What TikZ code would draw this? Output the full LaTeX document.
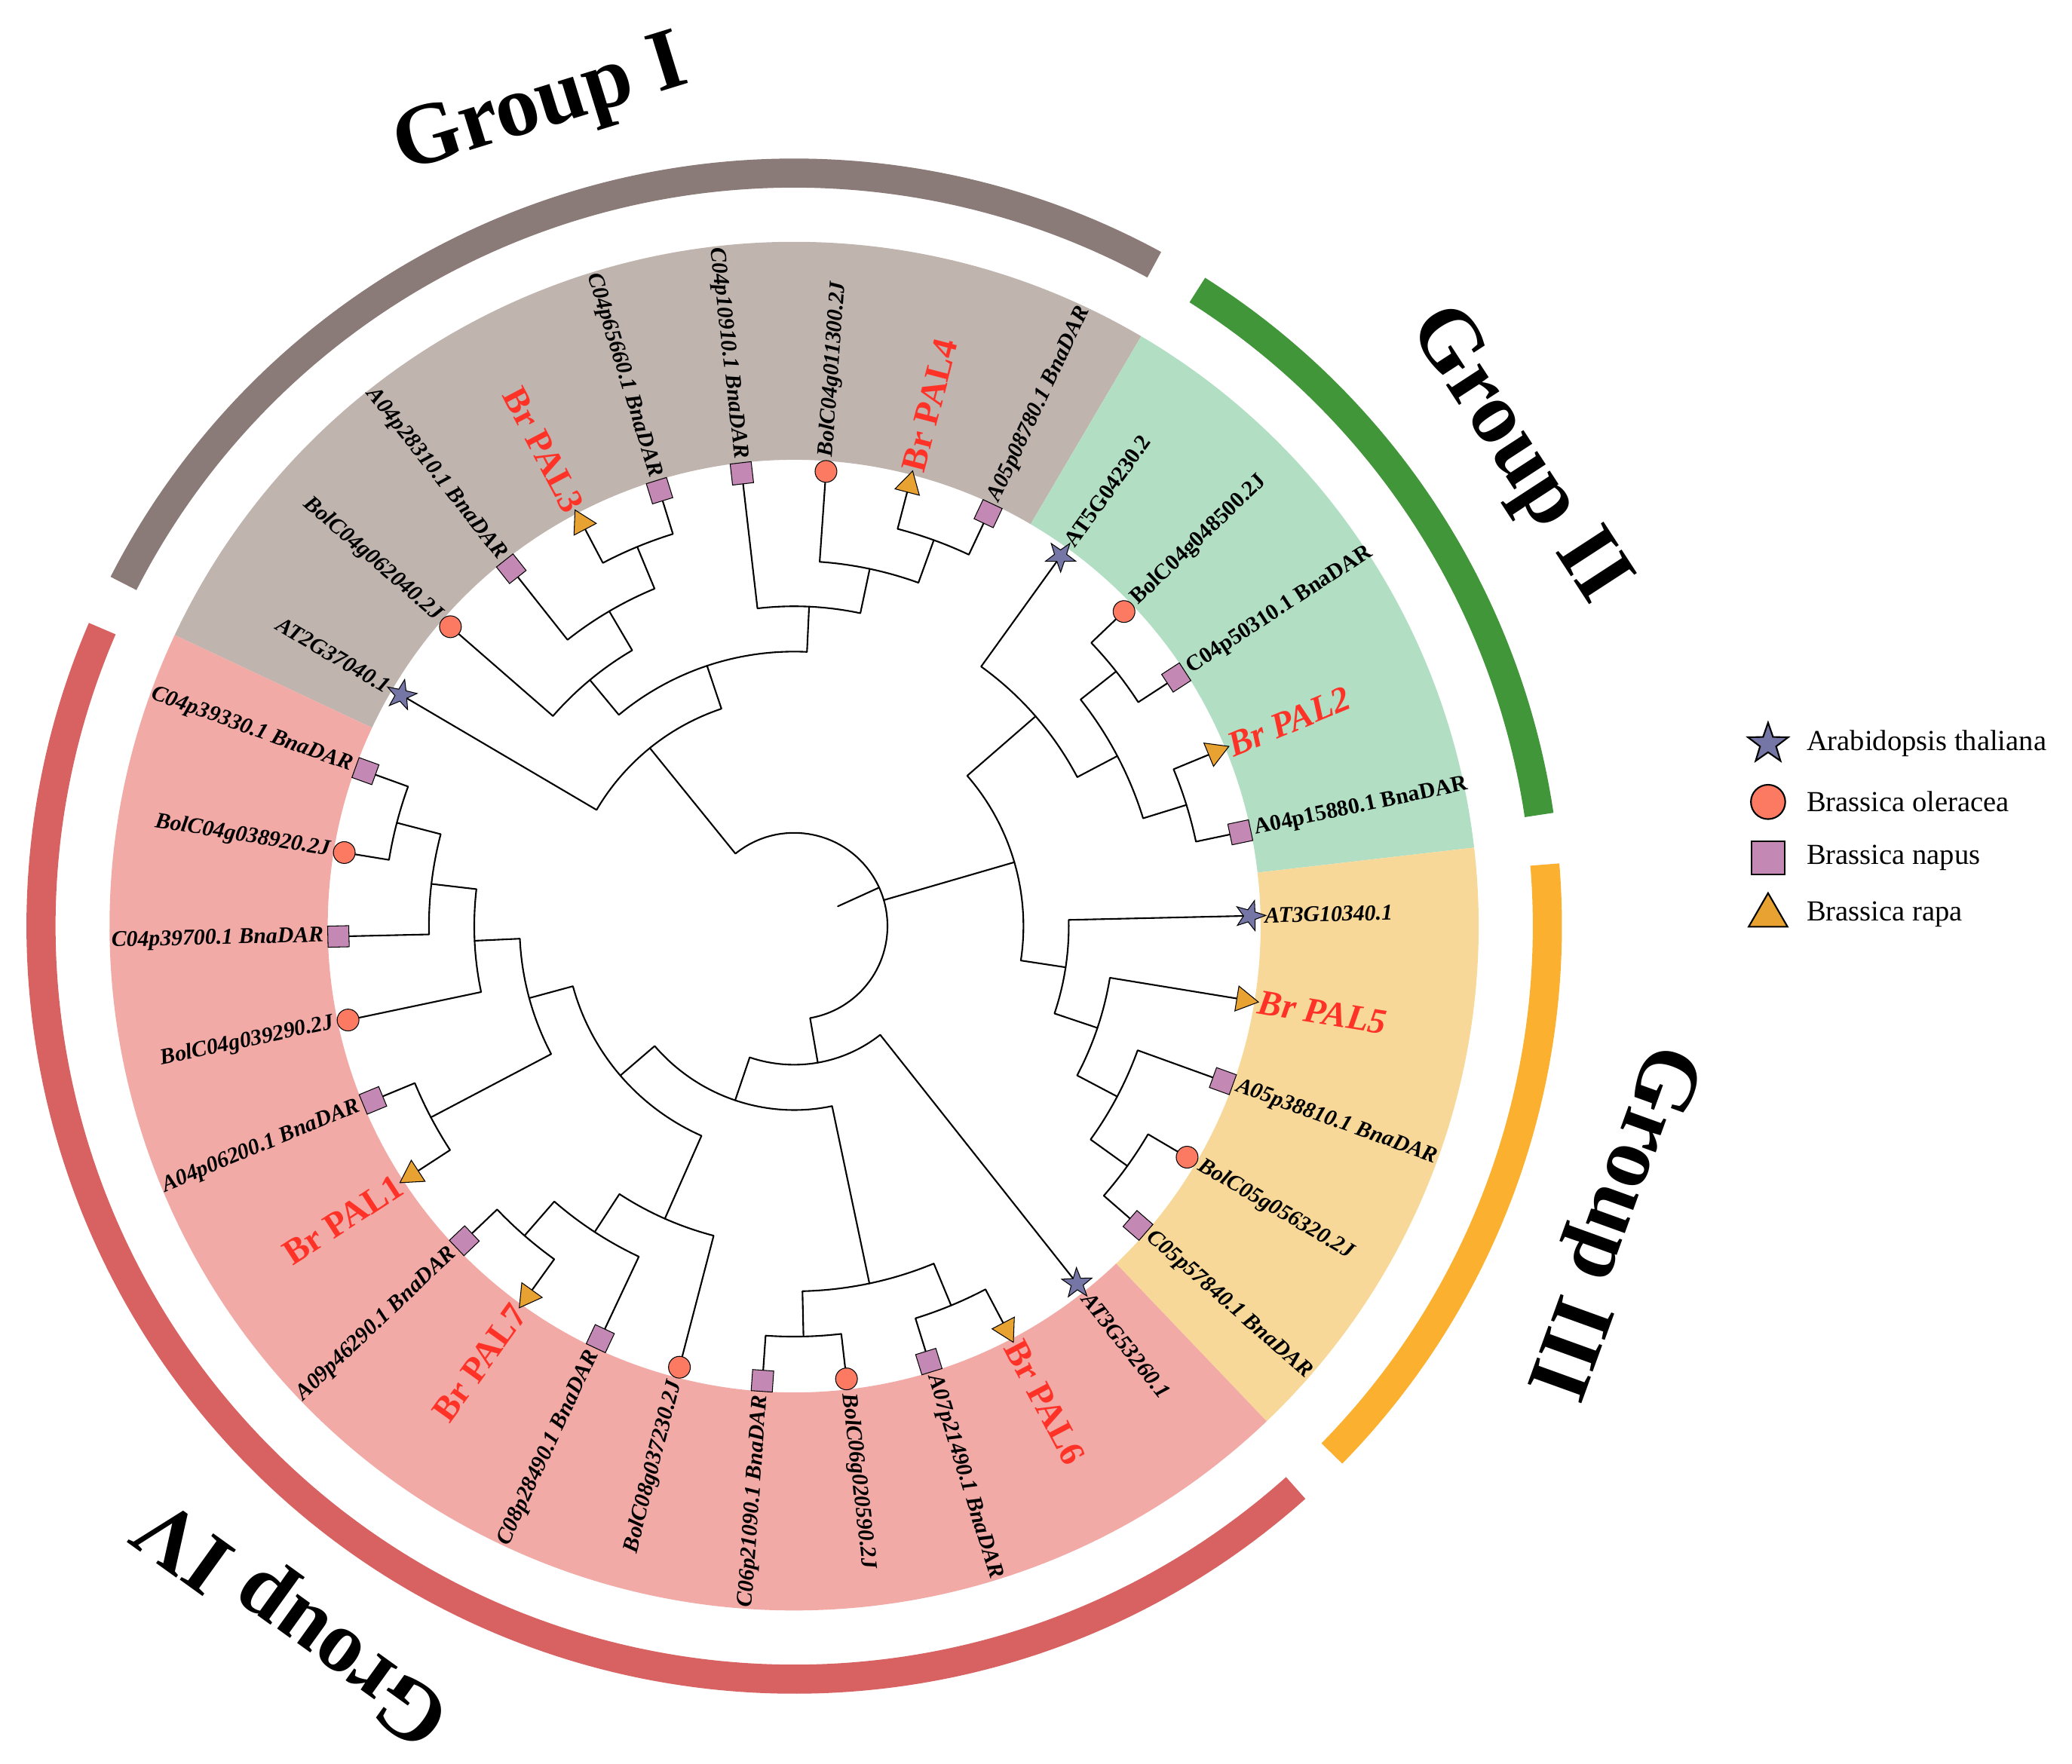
\documentclass[tikz,border=0pt]{standalone}
\usepackage{fontspec}
\setmainfont{Liberation Serif}
\usetikzlibrary{shapes.geometric}

\definecolor{colAth}{RGB}{118,118,166}
\definecolor{colBol}{RGB}{252,122,98}
\definecolor{colBna}{RGB}{196,136,180}
\definecolor{colBra}{RGB}{232,162,50}
\definecolor{bgI}{RGB}{192,180,175}
\definecolor{bgII}{RGB}{178,223,195}
\definecolor{bgIII}{RGB}{247,216,152}
\definecolor{bgIV}{RGB}{242,170,166}
\definecolor{arcI}{RGB}{138,122,120}
\definecolor{arcII}{RGB}{64,150,56}
\definecolor{arcIII}{RGB}{251,176,48}
\definecolor{arcIV}{RGB}{216,98,98}
\definecolor{palred}{RGB}{255,50,40}

\tikzset{
  twig/.style={line width=1.2pt, line cap=round, line join=round},
  leafmk/.style={draw=black, line width=0.6pt, inner sep=0pt},
  ath/.style={leafmk, star, star points=5, star point ratio=2.5, minimum size=24pt, fill=colAth},
  bol/.style={leafmk, circle, minimum size=16.5pt, fill=colBol},
  bna/.style={leafmk, rectangle, minimum size=16pt, fill=colBna},
  bra/.style={leafmk, regular polygon, regular polygon sides=3, minimum size=22pt, fill=colBra},
  gene/.style={font=\fontsize{17}{17}\selectfont\bfseries\itshape, inner sep=0pt},
  geneup/.style={font=\fontsize{17}{17}\selectfont\bfseries, inner sep=0pt},
  pal/.style={font=\fontsize{27}{27}\selectfont\bfseries, text=palred, inner sep=0pt},
  palb/.style={pal, font=\fontsize{27}{27}\selectfont\bfseries\itshape},
  grp/.style={font=\fontsize{66}{66}\selectfont\bfseries, inner sep=0pt},
  band/.style={line width=22pt},
  keytext/.style={font=\fontsize{22}{22}\selectfont, anchor=west, inner sep=0pt}
}

\begin{document}
\begin{tikzpicture}[x=1pt, y=1pt]
\useasboundingbox (-601,-634) rectangle (967,701);

% group backgrounds
\fill[bgI] (154.83:353) arc[start angle=154.83, end angle=59.54, radius=353pt] -- (59.54:518) arc[start angle=59.54, end angle=154.83, radius=518pt] -- cycle;
\fill[bgII] (59.54:353) arc[start angle=59.54, end angle=6.59, radius=353pt] -- (6.59:518) arc[start angle=6.59, end angle=59.54, radius=518pt] -- cycle;
\fill[bgIII] (6.59:353) arc[start angle=6.59, end angle=-46.35, radius=353pt] -- (-46.35:518) arc[start angle=-46.35, end angle=6.59, radius=518pt] -- cycle;
\fill[bgIV] (-46.35:353) arc[start angle=-46.35, end angle=-205.17, radius=353pt] -- (-205.17:518) arc[start angle=-205.17, end angle=-46.35, radius=518pt] -- cycle;

% group bands and names
\draw[band, arcI] (152.93:570) arc[start angle=152.93, end angle=61.44, radius=570pt];
\draw[band, arcII] (57.64:570) arc[start angle=57.64, end angle=8.49, radius=570pt];
\draw[band, arcIII] (4.69:570) arc[start angle=4.69, end angle=-44.45, radius=570pt];
\draw[band, arcIV] (-48.25:570) arc[start angle=-48.25, end angle=-203.27, radius=570pt];
\node[grp, rotate=17.18] (g1) at (107.18:648) {Group I};
\node[grp, rotate=-56.94] (g2) at (33.06:652) {Group II};
\node[grp, rotate=-109.88] (g3) at (-19.88:655) {Group III};
\node[grp, rotate=-215.76] (g4) at (-125.76:645) {Group IV};

% leaves
\node[ath, rotate=-88.70] (at3g10340) at (1.30:345) {};
\node[bra, rotate=-99.29] (pal5) at (-9.29:345) {};
\node[bna, rotate=-19.88] (a05p38810) at (-19.88:345) {};
\node[bol] (bolc05g056320) at (-30.46:345) {};
\node[bna, rotate=-41.05] (c05p57840) at (-41.05:345) {};
\node[ath, rotate=-141.64] (at3g53260) at (-51.64:345) {};
\node[bra, rotate=-152.23] (pal6) at (-62.23:345) {};
\node[bna, rotate=-72.82] (a07p21490) at (-72.82:345) {};
\node[bol] (bolc06g020590) at (-83.41:345) {};
\node[bna, rotate=-93.99] (c06p21090) at (-93.99:345) {};
\node[bol] (bolc08g037230) at (-104.58:345) {};
\node[bna, rotate=-115.17] (c08p28490) at (-115.17:345) {};
\node[bra, rotate=-215.76] (pal7) at (-125.76:345) {};
\node[bna, rotate=-136.35] (a09p46290) at (-136.35:345) {};
\node[bra, rotate=-236.94] (pal1) at (-146.94:345) {};
\node[bna, rotate=-157.52] (a04p06200) at (-157.52:345) {};
\node[bol] (bolc04g039290) at (-168.11:345) {};
\node[bna, rotate=-178.70] (c04p39700) at (-178.70:345) {};
\node[bol] (bolc04g038920) at (-189.29:345) {};
\node[bna, rotate=-199.88] (c04p39330) at (-199.88:345) {};
\node[ath, rotate=59.53] (at2g37040) at (149.53:345) {};
\node[bol] (bolc04g062040) at (138.94:345) {};
\node[bna, rotate=128.36] (a04p28310) at (128.36:345) {};
\node[bra, rotate=27.77] (pal3) at (117.77:345) {};
\node[bna, rotate=107.18] (c04p65660) at (107.18:345) {};
\node[bna, rotate=96.59] (c04p10910) at (96.59:345) {};
\node[bol] (bolc04g011300) at (86.00:345) {};
\node[bra, rotate=-14.59] (pal4) at (75.41:345) {};
\node[bna, rotate=64.82] (a05p08780) at (64.82:345) {};
\node[ath, rotate=-35.76] (at5g04230) at (54.24:345) {};
\node[bol] (bolc04g048500) at (43.65:345) {};
\node[bna, rotate=33.06] (c04p50310) at (33.06:345) {};
\node[bra, rotate=-67.53] (pal2) at (22.47:345) {};
\node[bna, rotate=11.88] (a04p15880) at (11.88:345) {};

% leaf names
\node[gene, rotate=1.30, anchor=west] (t-at3g10340) at (1.30:356) {AT3G10340.1};
\node[palb, rotate=-9.29, anchor=west] (t-pal5) at (-9.29:356) {Br PAL5};
\node[gene, rotate=-19.88, anchor=west] (t-a05p38810) at (-19.88:356) {A05p38810.1 BnaDAR};
\node[gene, rotate=-30.46, anchor=west] (t-bolc05g056320) at (-30.46:356) {BolC05g056320.2J};
\node[gene, rotate=-41.05, anchor=west] (t-c05p57840) at (-41.05:356) {C05p57840.1 BnaDAR};
\node[gene, rotate=-51.64, anchor=west] (t-at3g53260) at (-51.64:356) {AT3G53260.1};
\node[pal, rotate=-62.23, anchor=west] (t-pal6) at (-62.23:356) {Br PAL6};
\node[gene, rotate=-72.82, anchor=west] (t-a07p21490) at (-72.82:356) {A07p21490.1 BnaDAR};
\node[gene, rotate=-83.41, anchor=west] (t-bolc06g020590) at (-83.41:356) {BolC06g020590.2J};
\node[gene, rotate=86.01, anchor=east] (t-c06p21090) at (-93.99:356) {C06p21090.1 BnaDAR};
\node[gene, rotate=75.42, anchor=east] (t-bolc08g037230) at (-104.58:356) {BolC08g037230.2J};
\node[gene, rotate=64.83, anchor=east] (t-c08p28490) at (-115.17:356) {C08p28490.1 BnaDAR};
\node[pal, rotate=54.24, anchor=east] (t-pal7) at (-125.76:356) {Br PAL7};
\node[gene, rotate=43.65, anchor=east] (t-a09p46290) at (-136.35:356) {A09p46290.1 BnaDAR};
\node[pal, rotate=33.06, anchor=east] (t-pal1) at (-146.94:356) {Br PAL1};
\node[gene, rotate=22.48, anchor=east] (t-a04p06200) at (-157.52:356) {A04p06200.1 BnaDAR};
\node[gene, rotate=11.89, anchor=east] (t-bolc04g039290) at (-168.11:356) {BolC04g039290.2J};
\node[gene, rotate=1.30, anchor=east] (t-c04p39700) at (-178.70:356) {C04p39700.1 BnaDAR};
\node[gene, rotate=-9.29, anchor=east] (t-bolc04g038920) at (-189.29:356) {BolC04g038920.2J};
\node[gene, rotate=-19.88, anchor=east] (t-c04p39330) at (-199.88:356) {C04p39330.1 BnaDAR};
\node[gene, rotate=-30.47, anchor=east] (t-at2g37040) at (149.53:356) {AT2G37040.1};
\node[gene, rotate=-41.06, anchor=east] (t-bolc04g062040) at (138.94:356) {BolC04g062040.2J};
\node[gene, rotate=-51.64, anchor=east] (t-a04p28310) at (128.36:356) {A04p28310.1 BnaDAR};
\node[pal, rotate=-62.23, anchor=east] (t-pal3) at (117.77:356) {Br PAL3};
\node[gene, rotate=-72.82, anchor=east] (t-c04p65660) at (107.18:356) {C04p65660.1 BnaDAR};
\node[gene, rotate=-83.41, anchor=east] (t-c04p10910) at (96.59:356) {C04p10910.1 BnaDAR};
\node[gene, rotate=86.00, anchor=west] (t-bolc04g011300) at (86.00:356) {BolC04g011300.2J};
\node[pal, rotate=75.41, anchor=west] (t-pal4) at (75.41:356) {Br PAL4};
\node[gene, rotate=64.82, anchor=west] (t-a05p08780) at (64.82:356) {A05p08780.1 BnaDAR};
\node[geneup, rotate=54.24, anchor=west] (t-at5g04230) at (54.24:356) {AT5G04230.2};
\node[geneup, rotate=43.65, anchor=west] (t-bolc04g048500) at (43.65:356) {BolC04g048500.2J};
\node[geneup, rotate=33.06, anchor=west] (t-c04p50310) at (33.06:356) {C04p50310.1 BnaDAR};
\node[palb, rotate=22.47, anchor=west] (t-pal2) at (22.47:356) {Br PAL2};
\node[geneup, rotate=11.88, anchor=west] (t-a04p15880) at (11.88:356) {A04p15880.1 BnaDAR};

% inner nodes of the tree
\coordinate (nT) at (38.355:310.7);
\coordinate (nU) at (17.175:310.7);
\coordinate (nX) at (-35.755:310.7);
\coordinate (nJ) at (-67.525:310.7);
\coordinate (nI) at (-88.70:310.7);
\coordinate (nZa) at (-131.055:310.7);
\coordinate (nAB) at (-152.23:310.7);
\coordinate (nAE) at (-194.585:310.7);
\coordinate (nE) at (112.475:310.7);
\coordinate (nH) at (70.115:310.7);
\coordinate (nS) at (27.765:276.4);
\coordinate (nW) at (-27.82:276.4);
\coordinate (nN) at (-78.11:276.4);
\coordinate (nZ) at (-123.11:276.4);
\coordinate (nAD) at (-186.64:276.4);
\coordinate (nD) at (120.42:276.4);
\coordinate (nG) at (78.06:276.4);
\coordinate (nQ) at (41.0:242.1);
\coordinate (nV) at (-18.555:242.1);
\coordinate (nY) at (-113.845:242.1);
\coordinate (nAC) at (-177.375:242.1);
\coordinate (nC) at (129.68:242.1);
\coordinate (nF) at (87.325:242.1);
\coordinate (nR) at (-8.63:207.8);
\coordinate (nAA) at (-164.80:207.8);
\coordinate (nB) at (108.50:207.8);
\coordinate (nP) at (16.19:173.5);
\coordinate (nM) at (-139.32:173.5);
\coordinate (nA) at (129.015:173.5);
\coordinate (nL) at (-108.715:139.2);
\coordinate (nK) at (-80.18:104.9);
\coordinate (root) at (24.42:70.6);

% branches
\draw[twig] (bolc04g048500) -- (43.65:310.7) arc[start angle=43.65, end angle=33.06, radius=310.7pt] -- (c04p50310);
\draw[twig] (pal2) -- (22.47:310.7) arc[start angle=22.47, end angle=11.88, radius=310.7pt] -- (a04p15880);
\draw[twig] (bolc05g056320) -- (-30.46:310.7) arc[start angle=-30.46, end angle=-41.05, radius=310.7pt] -- (c05p57840);
\draw[twig] (pal6) -- (-62.23:310.7) arc[start angle=-62.23, end angle=-72.82, radius=310.7pt] -- (a07p21490);
\draw[twig] (bolc06g020590) -- (-83.41:310.7) arc[start angle=-83.41, end angle=-93.99, radius=310.7pt] -- (c06p21090);
\draw[twig] (pal7) -- (-125.76:310.7) arc[start angle=-125.76, end angle=-136.35, radius=310.7pt] -- (a09p46290);
\draw[twig] (pal1) -- (-146.94:310.7) arc[start angle=-146.94, end angle=-157.52, radius=310.7pt] -- (a04p06200);
\draw[twig] (bolc04g038920) -- (-189.29:310.7) arc[start angle=-189.29, end angle=-199.88, radius=310.7pt] -- (c04p39330);
\draw[twig] (pal3) -- (117.77:310.7) arc[start angle=117.77, end angle=107.18, radius=310.7pt] -- (c04p65660);
\draw[twig] (pal4) -- (75.41:310.7) arc[start angle=75.41, end angle=64.82, radius=310.7pt] -- (a05p08780);
\draw[twig] (nT) -- (38.355:276.4) arc[start angle=38.355, end angle=17.175, radius=276.4pt] -- (nU);
\draw[twig] (a05p38810) -- (-19.88:276.4) arc[start angle=-19.88, end angle=-35.755, radius=276.4pt] -- (nX);
\draw[twig] (nJ) -- (-67.525:276.4) arc[start angle=-67.525, end angle=-88.70, radius=276.4pt] -- (nI);
\draw[twig] (c08p28490) -- (-115.17:276.4) arc[start angle=-115.17, end angle=-131.055, radius=276.4pt] -- (nZa);
\draw[twig] (c04p39700) -- (-178.70:276.4) arc[start angle=-178.70, end angle=-194.585, radius=276.4pt] -- (nAE);
\draw[twig] (a04p28310) -- (128.36:276.4) arc[start angle=128.36, end angle=112.475, radius=276.4pt] -- (nE);
\draw[twig] (bolc04g011300) -- (86.00:276.4) arc[start angle=86.00, end angle=70.115, radius=276.4pt] -- (nH);
\draw[twig] (at5g04230) -- (54.24:242.1) arc[start angle=54.24, end angle=27.765, radius=242.1pt] -- (nS);
\draw[twig] (pal5) -- (-9.29:242.1) arc[start angle=-9.29, end angle=-27.82, radius=242.1pt] -- (nW);
\draw[twig] (bolc08g037230) -- (-104.58:242.1) arc[start angle=-104.58, end angle=-123.11, radius=242.1pt] -- (nZ);
\draw[twig] (bolc04g039290) -- (-168.11:242.1) arc[start angle=-168.11, end angle=-186.64, radius=242.1pt] -- (nAD);
\draw[twig] (bolc04g062040) -- (138.94:242.1) arc[start angle=138.94, end angle=120.42, radius=242.1pt] -- (nD);
\draw[twig] (c04p10910) -- (96.59:242.1) arc[start angle=96.59, end angle=78.06, radius=242.1pt] -- (nG);
\draw[twig] (at3g10340) -- (1.30:207.8) arc[start angle=1.30, end angle=-18.555, radius=207.8pt] -- (nV);
\draw[twig] (nAB) -- (-152.23:207.8) arc[start angle=-152.23, end angle=-177.375, radius=207.8pt] -- (nAC);
\draw[twig] (nC) -- (129.68:207.8) arc[start angle=129.68, end angle=87.325, radius=207.8pt] -- (nF);
\draw[twig] (nQ) -- (41.0:173.5) arc[start angle=41.0, end angle=-8.63, radius=173.5pt] -- (nR);
\draw[twig] (nY) -- (-113.845:173.5) arc[start angle=-113.845, end angle=-164.80, radius=173.5pt] -- (nAA);
\draw[twig] (at2g37040) -- (149.53:173.5) arc[start angle=149.53, end angle=108.50, radius=173.5pt] -- (nB);
\draw[twig] (nN) -- (-78.11:139.2) arc[start angle=-78.11, end angle=-139.32, radius=139.2pt] -- (nM);
\draw[twig] (at3g53260) -- (-51.64:104.9) arc[start angle=-51.64, end angle=-108.715, radius=104.9pt] -- (nL);
\draw[twig] (nA) -- (129.015:70.6) arc[start angle=129.015, end angle=-80.18, radius=70.6pt] -- (nK);
\draw[twig] (16.19:70.6) -- (nP);
\draw[twig] (24.42:36.3) -- (root);

% legend
\node[ath, minimum size=32pt, line width=1.2pt] (k-ath) at (737,138) {};
\node[keytext] (k-ath-t) at (766,138) {Arabidopsis thaliana};
\node[bol, minimum size=26pt, line width=1.2pt] (k-bol) at (737,94) {};
\node[keytext] (k-bol-t) at (766,94) {Brassica oleracea};
\node[bna, minimum size=25pt, line width=1.2pt] (k-bna) at (737,51.5) {};
\node[keytext] (k-bna-t) at (766,51.5) {Brassica napus};
\node[bra, minimum size=34pt, line width=1.2pt] (k-bra) at (737,8) {};
\node[keytext] (k-bra-t) at (766,9) {Brassica rapa};
\end{tikzpicture}
\end{document}
